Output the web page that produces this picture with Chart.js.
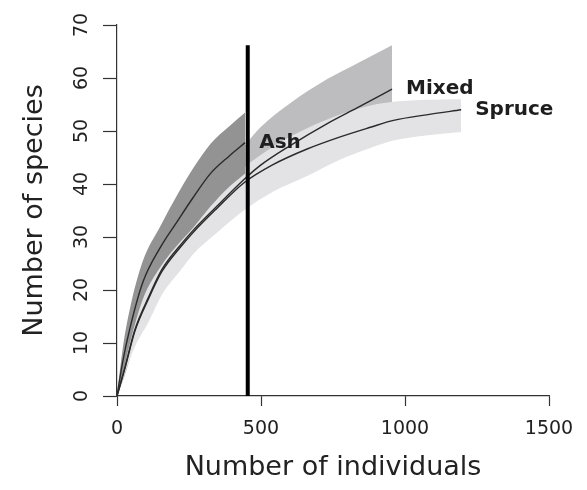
<!DOCTYPE html>
<html>
<head>
<meta charset="utf-8">
<script src="https://cdn.jsdelivr.net/npm/chart.js@4/dist/chart.umd.min.js"></script>
<style>
  html, body { margin: 0; padding: 0; background: #fff; }
</style>
</head>
<body>
<canvas id="rarefaction" width="587" height="490"></canvas>
<script>
// rarefaction curves
const ashX = [0, 20, 45, 90, 150, 210, 265, 325, 390, 445];
const ashMean = [0, 6.5, 12.8, 21.5, 28, 33, 37.5, 42, 45.3, 47.8];
const ashUpper = [0, 9, 16.5, 25.5, 32, 38, 43, 47.6, 50.9, 53.5];
const ashLower = [0, 4, 10, 18.3, 24.3, 28.5, 31.8, 35.8, 39.5, 42];

const mixedX = [0, 28, 62, 110, 155, 225, 265, 345, 440, 500, 600, 730, 835, 955];
const mixedMean = [0, 5.5, 12.5, 18.7, 23.8, 28.8, 31.3, 35.7, 40.8, 43.6, 47.2, 51.4, 54.4, 57.9];
const mixedUpper = [0, 7, 15, 22, 27.5, 32.5, 35.5, 40.5, 47, 50.8, 55.2, 59.8, 62.8, 66.2];
const mixedLower = [0, 4, 10, 15.5, 20, 25, 27.5, 31.5, 36, 38.5, 41.5, 45, 47.5, 50.5];

const spruceX = [0, 28, 62, 110, 155, 225, 265, 345, 440, 540, 660, 770, 880, 960, 1080, 1195];
const spruceMean = [0, 5.3, 12.2, 18.4, 23.4, 28.4, 30.9, 35.3, 40.2, 43.6, 46.6, 48.8, 50.7, 52, 53.1, 54];
const spruceUpper = [0, 7, 15, 21.5, 26.5, 30, 33, 37.5, 43, 47, 50.5, 53, 54.8, 55.5, 55.9, 56];
const spruceLower = [0, 4.5, 9.3, 14, 19, 24, 26.8, 30.7, 35, 38.5, 41.5, 44.5, 46.8, 48.2, 49.2, 49.8];

const cutoffX = [454, 454];
const cutoffY = [0, 66.2];

const xTicks = [0, 500, 1000, 1500];
const yTicks = [0, 10, 20, 30, 40, 50, 60, 70];

const pts = (xs, ys) => xs.map((x, i) => ({ x: x, y: ys[i] }));

const band = (xs, ys, color, order, fill) => ({
  data: pts(xs, ys),
  borderWidth: 0,
  pointRadius: 0,
  backgroundColor: color,
  fill: fill,
  cubicInterpolationMode: 'monotone',
  order: order,
});

const curve = (name, xs, ys) => ({
  label: name,
  data: pts(xs, ys),
  borderColor: '#2a2a2a',
  borderWidth: 1.4,
  pointRadius: 0,
  fill: false,
  cubicInterpolationMode: 'monotone',
  order: 2,
});

const font = 'DejaVu Sans';

// names next to the end of each curve
const curveLabels = {
  id: 'curveLabels',
  afterDatasetsDraw(chart) {
    const { ctx, scales } = chart;
    ctx.save();
    ctx.font = 'bold 20px "' + font + '"';
    ctx.fillStyle = '#1e1e1e';
    ctx.textAlign = 'left';
    ctx.textBaseline = 'middle';
    chart.data.datasets.forEach((ds) => {
      if (!ds.label) return;
      const last = ds.data[ds.data.length - 1];
      ctx.fillText(ds.label, scales.x.getPixelForValue(last.x) + 14, scales.y.getPixelForValue(last.y));
    });
    ctx.restore();
  },
};

new Chart(document.getElementById('rarefaction'), {
  type: 'line',
  data: {
    datasets: [
      band(ashX, ashUpper, '#939393', 4, '+1'),
      band(ashX, ashLower, 'transparent', 4, false),
      band(mixedX, mixedUpper, '#bdbdbf', 6, '+1'),
      band(mixedX, mixedLower, 'transparent', 6, false),
      band(spruceX, spruceUpper, '#e3e3e5', 5, '+1'),
      band(spruceX, spruceLower, 'transparent', 5, false),
      curve('Ash', ashX, ashMean),
      curve('Mixed', mixedX, mixedMean),
      curve('Spruce', spruceX, spruceMean),
      {
        data: pts(cutoffX, cutoffY),
        borderColor: '#000',
        borderWidth: 4,
        pointRadius: 0,
        fill: false,
        order: 1,
      },
    ],
  },
  options: {
    responsive: false,
    animation: false,
    devicePixelRatio: 1,
    layout: { padding: { left: 0, right: 38, top: 25, bottom: 0 } },
    plugins: { legend: { display: false }, tooltip: { enabled: false } },
    scales: {
      x: {
        type: 'linear',
        min: 0,
        max: 1500,
        afterBuildTicks: (s) => { s.ticks = xTicks.map((v) => ({ value: v })); },
        afterFit: (s) => { s.height = 94; },
        grid: { drawOnChartArea: false, drawTicks: true, tickLength: 10, tickColor: '#333', tickWidth: 1.2 },
        border: { display: true, color: '#333', width: 1.2 },
        ticks: {
          color: '#222',
          font: { family: font, size: 19 },
          padding: 12,
          maxRotation: 0,
          callback: (v) => String(v),
        },
        title: {
          display: true,
          text: 'Number of individuals',
          color: '#222',
          font: { family: font, size: 27 },
          padding: { bottom: 6 },
        },
      },
      y: {
        type: 'linear',
        min: 0,
        max: 70,
        afterBuildTicks: (s) => { s.ticks = yTicks.map((v) => ({ value: v })); },
        afterFit: (s) => { s.width = 117; },
        grid: { drawOnChartArea: false, drawTicks: true, tickLength: 14, tickColor: '#333', tickWidth: 1.2 },
        border: { display: true, color: '#333', width: 1.2 },
        ticks: {
          color: '#222',
          font: { family: font, size: 19 },
          minRotation: 90,
          maxRotation: 90,
          crossAlign: 'center',
          padding: 9,
          callback: (v) => String(v),
        },
        title: {
          display: true,
          text: 'Number of species',
          color: '#222',
          font: { family: font, size: 27 },
          padding: { top: 19 },
        },
      },
    },
  },
  plugins: [curveLabels],
});
</script>
</body>
</html>
